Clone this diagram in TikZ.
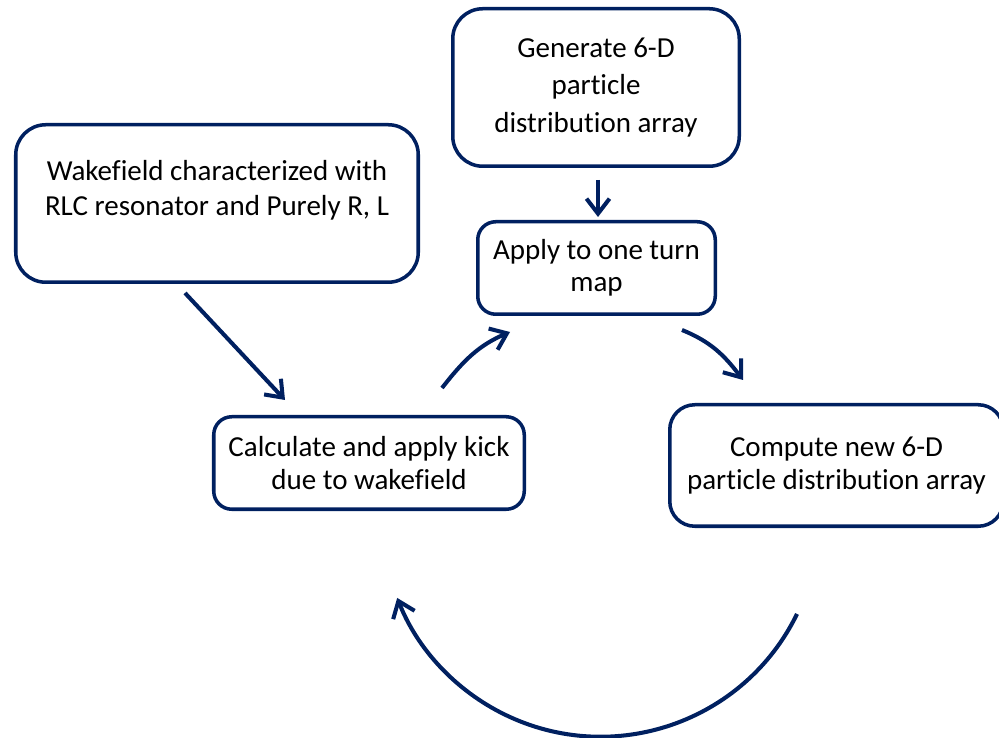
\documentclass[tikz,border=0pt]{standalone}
\usepackage{fontspec}
\setmainfont{Carlito}[Ligatures=NoCommon]
\usetikzlibrary{arrows.meta}
\definecolor{navy}{RGB}{0,32,96}
\begin{document}
\begin{tikzpicture}[every node/.style={font=\fontsize{16.5}{18.5}\selectfont,align=center},
  box/.style={draw=navy,line width=2pt,fill=white},
  arr/.style={-{Straight Barb[length=0.3cm,width=0.46cm]},line width=2.3pt,navy}]
\useasboundingbox (0,0) rectangle (19.98,14.76);
\clip (0,0) rectangle (19.98,14.76);
% Boxes
\node[box,rounded corners=0.6cm,minimum width=5.73cm,minimum height=3.15cm] (gen) at (11.92,13.01) {Generate 6-D\\[3pt]particle\\[3pt]distribution array};
\node[box,rounded corners=0.6cm,minimum width=8.05cm,minimum height=3.15cm,
  label={[yshift=0.26cm,align=center]center:Wakefield characterized with\\[1.3pt]RLC resonator and Purely R, L}] (wake) at (4.34,10.69) {};
\node[box,rounded corners=0.36cm,minimum width=4.75cm,minimum height=1.85cm] (apply) at (11.93,9.40) {Apply to one turn\\map};
\node[box,rounded corners=0.36cm,minimum width=6.21cm,minimum height=1.85cm] (calc) at (7.38,5.50) {Calculate and apply kick\\due to wakefield};
\node[box,rounded corners=0.5cm,minimum width=6.67cm,minimum height=2.43cm] (comp) at (16.73,5.45) {Compute new 6-D\\particle distribution array};
% Connector ends
\coordinate (w1) at ([xshift=-0.64cm,yshift=-0.18cm]wake.south);
\coordinate (c1) at ([xshift=-1.68cm,yshift=0.3cm]calc.north);
\coordinate (c2) at ([xshift=1.46cm,yshift=0.54cm]calc.north);
\coordinate (a1) at ([xshift=-1.73cm,yshift=-0.32cm]apply.south);
\coordinate (a2) at ([xshift=1.71cm,yshift=-0.28cm]apply.south);
\coordinate (p1) at ([xshift=-1.87cm,yshift=0.46cm]comp.north);
\coordinate (loop) at (15.94,2.48);
% Arrows
\draw[arr,shorten <=0.24cm,shorten >=0.06cm] ([xshift=0.04cm]gen.south) -- ([xshift=0.04cm]gen.south |- apply.north);
\draw[arr] (w1) -- (c1);
\draw[arr] (c2) to[out=52,in=203] (a1);
\draw[arr] (a2) to[out=-22,in=127] (p1);
\draw[arr] (loop) arc[start angle=-26,end angle=-158.6,radius=4.37cm];
\end{tikzpicture}
\end{document}
